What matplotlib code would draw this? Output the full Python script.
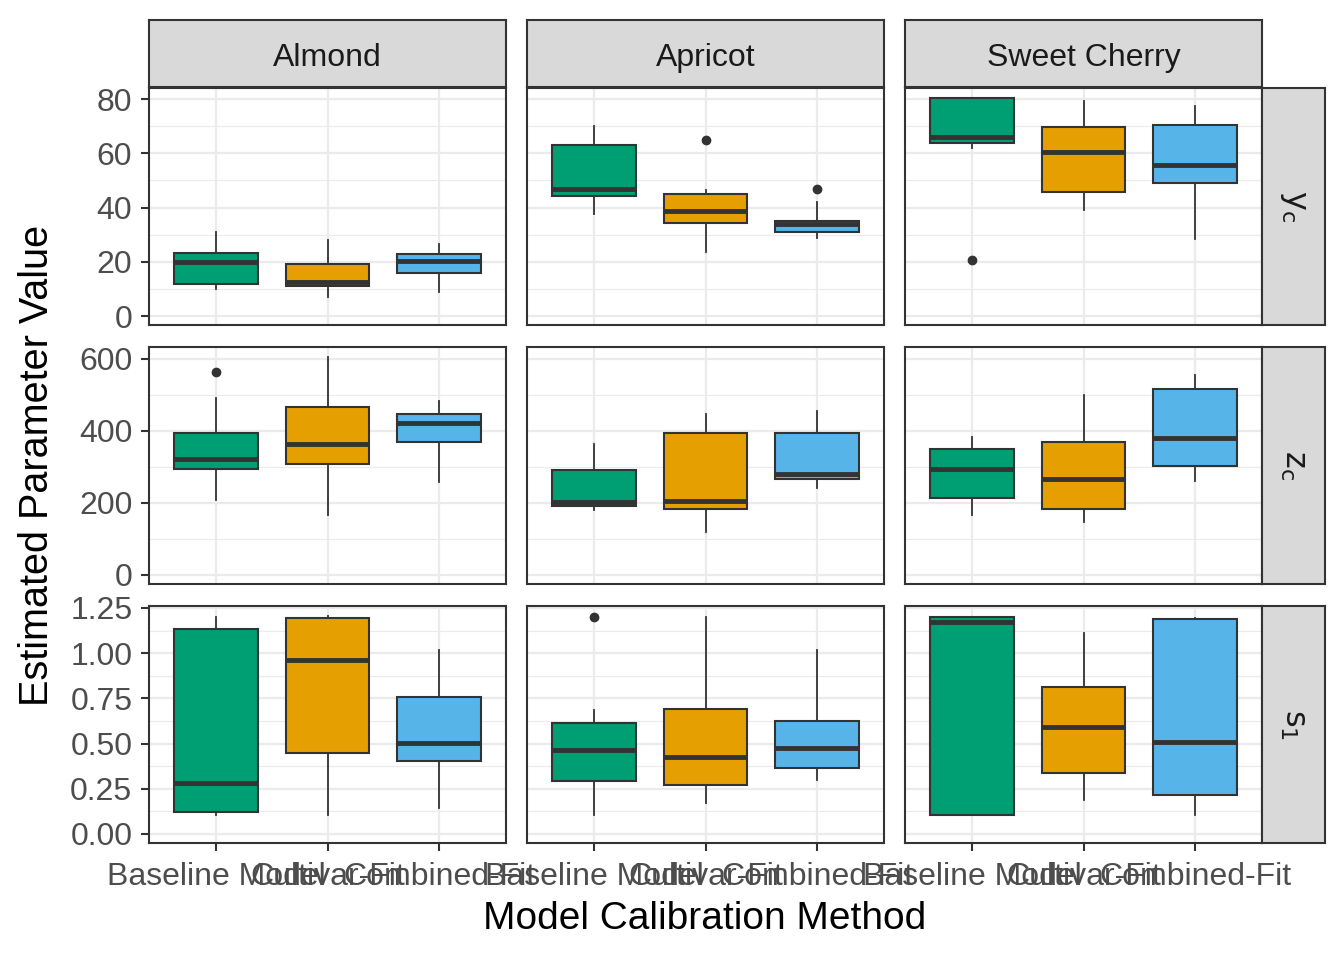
import matplotlib
matplotlib.use('Agg')
import matplotlib.pyplot as plt
import numpy as np

plt.rcParams['font.family'] = ['Liberation Sans', 'DejaVu Sans']

crops = ['Almond', 'Apricot', 'Sweet Cherry']
params = [r'$\mathrm{y_c}$', r'$\mathrm{z_c}$', r'$\mathrm{s_1}$']
methods = ['Baseline Model', 'Cultivar-Fit', 'Combined-Fit']
colors = ['#009E73', '#E69F00', '#56B4E9']

# box summaries per method: [whisker low, q1, median, q3, whisker high]
yc_almond = [[10.0, 11.8, 19.9, 23.2, 31.0], [7.1, 11.2, 12.6, 19.1, 28.0], [8.7, 16.0, 20.2, 22.7, 26.5]]
yc_apricot = [[37.6, 44.2, 46.8, 63.0, 70.0], [23.6, 34.3, 38.7, 45.0, 46.5], [28.8, 31.0, 33.9, 35.0, 42.0]]
yc_cherry = [[62.0, 63.8, 66.0, 80.4, 80.4], [39.1, 45.7, 60.5, 69.7, 79.3], [28.4, 49.0, 55.7, 70.4, 77.4]]
zc_almond = [[208, 294, 322, 394, 492], [167, 308, 364, 467, 606], [258, 369, 422, 447, 483]]
zc_apricot = [[181, 192, 203, 292, 364], [119, 183, 206, 394, 447], [242, 267, 281, 394, 456]]
zc_cherry = [[167, 214, 294, 350, 383], [147, 183, 267, 369, 500], [261, 303, 381, 517, 556]]
s1_almond = [[0.105, 0.122, 0.282, 1.134, 1.200], [0.105, 0.448, 0.962, 1.195, 1.206], [0.144, 0.404, 0.503, 0.758, 1.018]]
s1_apricot = [[0.105, 0.293, 0.465, 0.614, 0.686], [0.171, 0.271, 0.426, 0.691, 1.200], [0.299, 0.365, 0.476, 0.625, 1.018]]
s1_cherry = [[0.105, 0.105, 1.173, 1.200, 1.200], [0.188, 0.337, 0.592, 0.813, 1.112], [0.105, 0.216, 0.509, 1.189, 1.195]]

# outliers per method
yc_almond_out = [[], [], []]
yc_apricot_out = [[], [64.9], [46.8]]
yc_cherry_out = [[20.6], [], []]
zc_almond_out = [[564], [], []]
zc_apricot_out = [[], [], []]
zc_cherry_out = [[], [], []]
s1_almond_out = [[], [], []]
s1_apricot_out = [[1.20], [], []]
s1_cherry_out = [[], [], []]

boxes = [[yc_almond, yc_apricot, yc_cherry],
         [zc_almond, zc_apricot, zc_cherry],
         [s1_almond, s1_apricot, s1_cherry]]
outs = [[yc_almond_out, yc_apricot_out, yc_cherry_out],
        [zc_almond_out, zc_apricot_out, zc_cherry_out],
        [s1_almond_out, s1_apricot_out, s1_cherry_out]]

y_major = [[0, 20, 40, 60, 80], [0, 200, 400, 600], [0, 0.25, 0.5, 0.75, 1.0, 1.25]]
y_minor = [[10, 30, 50, 70], [100, 300, 500], [0.125, 0.375, 0.625, 0.875, 1.125]]
y_labels = [['0', '20', '40', '60', '80'], ['0', '200', '400', '600'],
            ['0.00', '0.25', '0.50', '0.75', '1.00', '1.25']]
y_lims = [(-3.3, 84.1), (-25, 633), (-0.05, 1.261)]

W, H = 1344, 960
fig = plt.figure(figsize=(W / 100, H / 100), dpi=100)

col_x = [149, 527, 905]
pw = 357
row_y = [88, 347, 606]
ph = 237
edge = '#333333'


def px(x, y, w, h):
    return [x / W, 1 - (y + h) / H, w / W, h / H]


for r in range(3):
    for c in range(3):
        ax = fig.add_axes(px(col_x[c], row_y[r], pw, ph))
        ax.set_facecolor('white')
        stats = []
        for m in range(3):
            wl, q1, med, q3, wh = boxes[r][c][m]
            stats.append(dict(whislo=wl, q1=q1, med=med, q3=q3, whishi=wh,
                              fliers=outs[r][c][m]))
        bp = ax.bxp(stats, positions=[1, 2, 3], widths=0.75, patch_artist=True,
                    showcaps=False, zorder=3,
                    boxprops=dict(edgecolor=edge, linewidth=1.5),
                    medianprops=dict(color=edge, linewidth=3.5, solid_capstyle='butt'),
                    whiskerprops=dict(color=edge, linewidth=1.3),
                    flierprops=dict(marker='o', markerfacecolor=edge, markeredgecolor=edge,
                                    markersize=6))
        for patch, col in zip(bp['boxes'], colors):
            patch.set_facecolor(col)
        ax.set_xlim(0.4, 3.6)
        ax.set_ylim(*y_lims[r])
        ax.set_yticks(y_major[r])
        ax.set_yticks(y_minor[r], minor=True)
        ax.set_xticks([1, 2, 3])
        ax.grid(True, which='major', color='#EBEBEB', linewidth=1.6, zorder=0)
        ax.grid(True, which='minor', axis='y', color='#EBEBEB', linewidth=0.8, zorder=0)
        ax.set_axisbelow(True)
        for s in ax.spines.values():
            s.set_color(edge)
            s.set_linewidth(1.5)
        ax.tick_params(which='minor', length=0)
        ax.tick_params(which='major', color=edge, width=1.5, length=6,
                       labelsize=23, labelcolor='#4D4D4D')
        ax.tick_params(axis='y', pad=6)
        ax.tick_params(axis='x', pad=8)
        if c == 0:
            ax.set_yticklabels(y_labels[r])
        else:
            ax.tick_params(axis='y', length=0, labelleft=False)
        if r == 2:
            ax.set_xticklabels(methods)
        else:
            ax.tick_params(axis='x', length=0, labelbottom=False)

# column strips
for c in range(3):
    sx = fig.add_axes(px(col_x[c], 20, pw, 67))
    sx.set_facecolor('#D9D9D9')
    sx.set_xticks([])
    sx.set_yticks([])
    for s in sx.spines.values():
        s.set_color(edge)
        s.set_linewidth(1.5)
    sx.text(0.5, 0.32, crops[c], ha='center', va='baseline', fontsize=23,
            color='#1A1A1A', transform=sx.transAxes)

# row strips
for r in range(3):
    sy = fig.add_axes(px(1262, row_y[r], 63, ph))
    sy.set_facecolor('#D9D9D9')
    sy.set_xticks([])
    sy.set_yticks([])
    for s in sy.spines.values():
        s.set_color(edge)
        s.set_linewidth(1.5)
    sy.text(0.5, 0.5, params[r], ha='center', va='center', fontsize=23,
            color='#1A1A1A', rotation=-90, transform=sy.transAxes)

fig.text(705 / W, 1 - 919 / H, 'Model Calibration Method', ha='center', va='center',
         fontsize=28, color='black')
fig.text(37 / W, 1 - 465 / H, 'Estimated Parameter Value', ha='center', va='center',
         fontsize=28.5, color='black', rotation=90)

fig.savefig('out.png', dpi=100)
